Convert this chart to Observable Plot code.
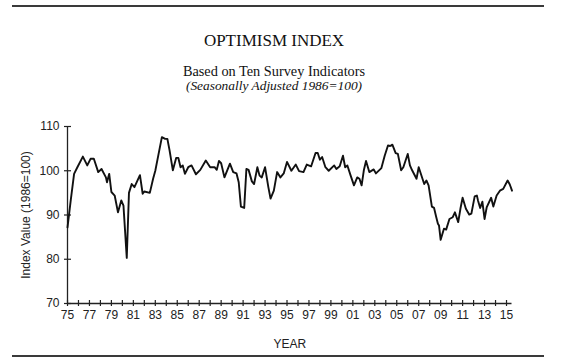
<!DOCTYPE html>
<html>
<head>
<meta charset="utf-8">
<script src="https://cdn.jsdelivr.net/npm/d3@7"></script>
<script src="https://cdn.jsdelivr.net/npm/@observablehq/plot@0.6"></script>
<style>
  html, body { margin: 0; padding: 0; background: #fff; }
  body { width: 562px; height: 363px; position: relative; overflow: hidden; }
  .rule { position: absolute; left: 12px; width: 532px; height: 0; border-top: 2px solid #3a3a3a; }
  .t { position: absolute; left: 0; width: 548px; text-align: center; font-family: "Liberation Serif", serif; color: #111; white-space: nowrap; }
  #chart { position: absolute; left: 0; top: 100px; }
</style>
</head>
<body>
<div class="rule" style="top:5px"></div>
<div class="t" style="top:32px;font-size:17px;line-height:17px;">OPTIMISM INDEX</div>
<div class="t" style="top:64px;font-size:14.3px;line-height:15px;">Based on Ten Survey Indicators</div>
<div class="t" style="top:79px;font-size:13.4px;line-height:14px;font-style:italic;">(Seasonally Adjusted 1986=100)</div>
<div id="chart"></div>
<div class="rule" style="top:355px"></div>
<script>
// Decimal year of each observation
const years = [
  1975.0, 1975.3, 1975.6, 1975.9, 1976.4, 1976.8, 1977.1, 1977.4, 1977.8, 1978.1,
  1978.5, 1978.6, 1978.8, 1979.0, 1979.3, 1979.6, 1979.9, 1980.1, 1980.4, 1980.6,
  1980.85, 1981.1, 1981.6, 1981.85, 1982.0, 1982.5, 1982.8, 1983.0, 1983.3, 1983.6,
  1983.9, 1984.1, 1984.3, 1984.6, 1984.9, 1985.1, 1985.3, 1985.5, 1985.7, 1986.0,
  1986.3, 1986.7, 1987.1, 1987.6, 1988.0, 1988.4, 1988.6, 1988.8, 1989.0, 1989.3,
  1989.8, 1990.1, 1990.4, 1990.6, 1990.8, 1991.1, 1991.3, 1991.5, 1991.8, 1992.0,
  1992.3, 1992.5, 1992.7, 1993.0, 1993.3, 1993.5, 1993.8, 1994.1, 1994.4, 1994.7,
  1995.0, 1995.4, 1995.8, 1996.1, 1996.5, 1996.8, 1997.2, 1997.6, 1997.8, 1998.0,
  1998.2, 1998.5, 1998.8, 1999.3, 1999.5, 1999.8, 2000.1, 2000.3, 2000.5, 2000.8,
  2001.1, 2001.4, 2001.6, 2001.8, 2002.0, 2002.2, 2002.5, 2002.9, 2003.1, 2003.6,
  2003.9, 2004.2, 2004.4, 2004.6, 2004.9, 2005.1, 2005.4, 2005.6, 2006.0, 2006.2,
  2006.4, 2006.8, 2007.0, 2007.5, 2007.7, 2007.9, 2008.2, 2008.4, 2008.6, 2008.75,
  2008.85, 2009.0, 2009.3, 2009.5, 2009.8, 2010.1, 2010.3, 2010.6, 2010.8, 2011.0,
  2011.3, 2011.6, 2011.8, 2012.1, 2012.3, 2012.4, 2012.6, 2012.8, 2013.0, 2013.2,
  2013.6, 2013.8, 2014.1, 2014.4, 2014.7, 2015.1, 2015.3, 2015.5
];
// Index value (1986=100)
const values = [
  87.2, 93.4, 99.3, 100.8, 103.2, 101.2, 102.7, 102.7, 99.7, 100.4,
  98.5, 97.4, 99.3, 95.2, 94.4, 90.6, 93.3, 92.1, 80.3, 95.0,
  97.0, 96.3, 99.0, 94.8, 95.3, 95.0, 98.2, 100.0, 103.8, 107.6,
  107.2, 107.2, 104.6, 100.1, 102.9, 102.9, 100.8, 101.2, 99.3, 100.8,
  101.2, 99.2, 100.2, 102.3, 100.8, 100.8, 100.2, 102.2, 101.7, 98.5,
  101.6, 99.7, 99.4, 97.4, 91.9, 91.6, 100.4, 100.2, 97.6, 97.0,
  100.8, 98.9, 98.5, 100.8, 96.3, 93.7, 95.5, 99.7, 98.5, 99.4,
  102.0, 100.0, 101.4, 99.9, 99.7, 101.4, 101.0, 104.0, 104.0, 102.5,
  103.1, 100.8, 100.0, 101.2, 100.4, 101.0, 103.4, 100.8, 101.2, 98.9,
  96.7, 98.5, 98.2, 96.7, 100.1, 102.2, 99.7, 100.3, 99.4, 100.6,
  103.4, 105.7, 105.6, 105.9, 104.0, 103.8, 100.1, 100.8, 103.8, 101.2,
  100.1, 98.2, 100.8, 97.0, 97.8, 96.7, 91.9, 91.6, 89.5, 88.0,
  87.6, 84.4, 86.9, 86.7, 89.1, 89.5, 90.6, 88.4, 91.4, 93.9,
  91.4, 90.1, 90.3, 94.2, 94.4, 93.3, 91.6, 93.0, 89.1, 91.8,
  93.9, 91.9, 94.4, 95.5, 95.9, 97.8, 96.9, 95.5
];
const tickYears = d3.range(1975, 2016);      // minor ticks, every year
const labelYears = d3.range(1975, 2016, 2);  // labelled ticks
const yTicks = [70, 80, 90, 100, 110];

const data = years.map((t, i) => ({t, v: values[i]}));

const chart = Plot.plot({
  width: 562,
  height: 263,
  marginLeft: 67,
  marginRight: 50.5,
  marginTop: 26,
  marginBottom: 60,
  style: {fontFamily: "'Liberation Sans', Arial, sans-serif", fontSize: "11.5px", color: "#222", background: "#fff"},
  x: {domain: [1975, 2015.5]},
  y: {domain: [70, 110]},
  marks: [
    Plot.axisX(labelYears, {tickSize: 0, tickPadding: 7, tickFormat: d => String(d % 100).padStart(2, "0"),
      label: "YEAR", labelAnchor: "center", labelOffset: 44, labelArrow: "none", fontSize: 12}),
    Plot.axisY(yTicks, {tickSize: 0, tickPadding: 8, label: "Index Value (1986=100)", labelAnchor: "center",
      labelOffset: 46, labelArrow: "none", fontSize: 12}),
    Plot.ruleY([70], {x1: 1975, x2: 2015.5, stroke: "#222", strokeWidth: 1.3}),
    Plot.ruleX([1975], {y1: 70, y2: 110, stroke: "#222", strokeWidth: 1.3}),
    Plot.ruleX(tickYears, {x: d => d, y1: 70, y2: 70, insetTop: -3, insetBottom: -3, stroke: "#222", strokeWidth: 1.2}),
    Plot.ruleY(yTicks, {y: d => d, x1: 1975, x2: 1975, insetLeft: -3, insetRight: -4, stroke: "#222", strokeWidth: 1.2}),
    Plot.line(data, {x: "t", y: "v", stroke: "#111", strokeWidth: 1.9, strokeLinejoin: "round"})
  ]
});
document.getElementById("chart").appendChild(chart);
</script>
</body>
</html>
